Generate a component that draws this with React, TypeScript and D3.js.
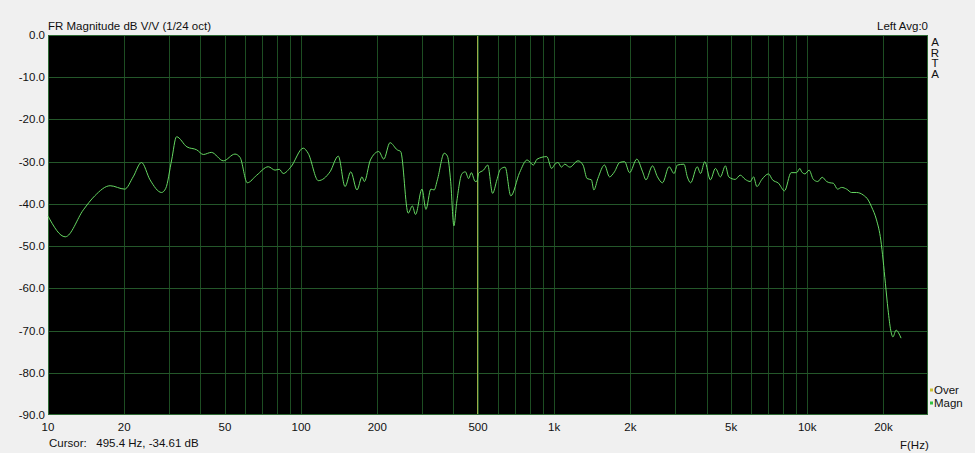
import { useEffect, useRef } from "react";
import * as d3 from "d3";

// measured response, 1/24 oct smoothing (Hz, dB)
const FREQS = [
  10, 11.7, 13.8, 15.3, 17.6, 20.1, 21.7, 23.4, 25.3, 28.1, 29.2, 30.8, 32.2,
  35.4, 38.7, 41.1, 44.2, 49.3, 54.8, 57.4, 61.3, 66.8, 74.2, 78.9, 82, 85, 91,
  102, 106.6, 117, 130.1, 140.3, 149.2, 157.2, 166.3, 174.1, 177.8, 187.9,
  202.7, 212.2, 224.5, 239.8, 247.5, 264.9, 275.2, 283.3, 300.4, 311.4, 325.7,
  335.6, 345.6, 367.9, 378.7, 390, 401.7, 411.5, 432.7, 445.8, 459.2, 470.4,
  487.7, 495.4, 502.4, 525.9, 546.3, 571, 594, 613, 640, 674, 730, 782, 828,
  856, 935, 977, 1007, 1036, 1068, 1101, 1153, 1242, 1300, 1349, 1403, 1435,
  1488, 1581, 1655, 1731, 1814, 1898, 1986, 2121, 2236, 2305, 2446, 2560,
  2679, 2845, 2977, 3068, 3258, 3359, 3462, 3675, 3788, 3937, 4143, 4337,
  4538, 4749, 4895, 5195, 5436, 5688, 5953, 6136, 6324, 6619, 7028, 7289,
  7697, 8131, 8636, 9076, 9356, 9500, 9799, 10170, 10570, 11000, 11460, 11930,
  12290, 12670, 13180, 13670, 14310, 14970, 15670, 16640, 17420, 17950, 18780,
  19530, 19940, 20360, 20860, 21370, 21800, 22450, 22930, 23480,
];

const MAGN = [
  -42.9, -47.8, -41.4, -38.1, -35.7, -36.5, -33.6, -30.2, -34.3, -37.3, -36.3,
  -29.6, -24.1, -26.5, -27.2, -28.3, -27.8, -29.8, -28.2, -29.0, -35.0, -33.2,
  -31.2, -32.0, -31.8, -32.8, -31.3, -26.8, -28.0, -34.5, -32.4, -28.7, -35.9,
  -32.4, -36.7, -33.6, -34.7, -29.6, -27.6, -29.4, -25.5, -27.2, -27.6, -42.2,
  -40.5, -42.5, -36.5, -41.3, -36.5, -36.7, -34.3, -28.0, -28.7, -34.7, -45.2,
  -39.9, -32.8, -32.4, -34.0, -32.6, -34.7, -34.61, -32.8, -32.0, -30.8, -37.5,
  -34.3, -31.8, -31.3, -38.1, -32.6, -29.6, -30.8, -29.4, -28.8, -31.6, -30.6,
  -30.2, -31.3, -30.6, -31.3, -29.8, -30.8, -34.0, -34.3, -36.7, -34.0, -30.8,
  -33.6, -32.4, -30.2, -30.0, -32.6, -29.4, -32.4, -34.3, -31.0, -33.6, -35.0,
  -31.2, -32.8, -30.8, -30.6, -33.6, -35.0, -31.2, -32.8, -30.0, -34.3, -31.6,
  -33.6, -31.0, -33.6, -34.2, -33.2, -34.2, -34.7, -33.6, -35.9, -34.2, -32.9,
  -34.3, -35.1, -36.9, -32.6, -32.6, -31.6, -32.4, -32.9, -32.0, -34.2, -34.7,
  -33.7, -34.7, -35.0, -35.1, -36.5, -36.1, -36.5, -37.3, -37.3, -37.9, -39.1,
  -40.7, -43.8, -48.6, -53.3, -58.8, -65.1, -69.9, -71.5, -69.9, -70.5, -71.8,
];

const X_TICKS = [10, 20, 50, 100, 200, 500, 1000, 2000, 5000, 10000, 20000];
const X_TICK_LABELS = ["10", "20", "50", "100", "200", "500", "1k", "2k", "5k", "10k", "20k"];
const Y_TICKS = [0, -10, -20, -30, -40, -50, -60, -70, -80, -90];
const CURSOR_FREQ = 495.4;
const CURSOR_TEXT = "Cursor:   495.4 Hz, -34.61 dB";
const LEGEND = [
  { label: "Over", color: "#c8c030" },
  { label: "Magn", color: "#30c040" },
];

const WIDTH = 975;
const HEIGHT = 453;
const FONT = "'Liberation Sans', Arial, sans-serif";

export default function App() {
  const svgRef = useRef<SVGSVGElement>(null);

  useEffect(() => {
    if (!svgRef.current) return;
    const svg = d3.select(svgRef.current);
    svg.selectAll("*").remove();

    const plot = { left: 48, top: 35, right: 928, bottom: 415 };

    const x = d3.scaleLog().domain([10, 30000]).range([plot.left, plot.right]);
    const y = d3.scaleLinear().domain([-90, 0]).range([plot.bottom, plot.top]);

    svg.append("rect").attr("width", WIDTH).attr("height", HEIGHT).attr("fill", "#f0f0f0");

    svg
      .append("rect")
      .attr("x", plot.left)
      .attr("y", plot.top)
      .attr("width", plot.right - plot.left)
      .attr("height", plot.bottom - plot.top)
      .attr("fill", "#000");

    const grid = svg.append("g").attr("shape-rendering", "crispEdges");

    // 1..9 per decade
    const vLines: number[] = [];
    for (let dec = 10; dec <= 10000; dec *= 10) {
      for (let m = 1; m <= 9; m++) {
        const f = dec * m;
        if (f > 10 && f < 30000) vLines.push(f);
      }
    }

    grid
      .selectAll("line.v")
      .data(vLines)
      .join("line")
      .attr("class", "v")
      .attr("x1", (d) => Math.round(x(d)) + 0.5)
      .attr("x2", (d) => Math.round(x(d)) + 0.5)
      .attr("y1", plot.top)
      .attr("y2", plot.bottom)
      .attr("stroke", "#1d4d22")
      .attr("stroke-width", 1);

    grid
      .selectAll("line.h")
      .data(Y_TICKS.slice(1, -1))
      .join("line")
      .attr("class", "h")
      .attr("x1", plot.left)
      .attr("x2", plot.right)
      .attr("y1", (d) => Math.round(y(d)) + 0.5)
      .attr("y2", (d) => Math.round(y(d)) + 0.5)
      .attr("stroke", "#24572a")
      .attr("stroke-width", 1);

    // cursor
    grid
      .append("line")
      .attr("x1", Math.round(x(CURSOR_FREQ)) + 0.5)
      .attr("x2", Math.round(x(CURSOR_FREQ)) + 0.5)
      .attr("y1", plot.top)
      .attr("y2", plot.bottom)
      .attr("stroke", "#9aae48")
      .attr("stroke-width", 1);

    svg
      .append("rect")
      .attr("x", plot.left + 0.5)
      .attr("y", plot.top + 0.5)
      .attr("width", plot.right - plot.left - 1)
      .attr("height", plot.bottom - plot.top - 1)
      .attr("fill", "none")
      .attr("stroke", "#2e6a34")
      .attr("shape-rendering", "crispEdges");

    const data = FREQS.map((f, i) => ({ f, v: MAGN[i] }));
    const line = d3
      .line<{ f: number; v: number }>()
      .x((d) => x(d.f))
      .y((d) => y(d.v))
      .curve(d3.curveMonotoneX);

    svg
      .append("path")
      .datum(data)
      .attr("d", line)
      .attr("fill", "none")
      .attr("stroke", "#66d862")
      .attr("stroke-width", 1)
      .attr("stroke-linejoin", "round");

    const text = svg
      .append("g")
      .attr("font-family", FONT)
      .attr("font-size", "11.5px")
      .attr("fill", "#111");

    // y labels
    text
      .selectAll("text.y")
      .data(Y_TICKS)
      .join("text")
      .attr("class", "y")
      .attr("x", 45)
      .attr("y", (d) => y(d) + 4)
      .attr("text-anchor", "end")
      .text((d) => d.toFixed(1));

    // x labels
    text
      .selectAll("text.x")
      .data(X_TICKS)
      .join("text")
      .attr("class", "x")
      .attr("x", (d) => x(d))
      .attr("y", 431)
      .attr("text-anchor", "middle")
      .text((_, i) => X_TICK_LABELS[i]);

    text.append("text").attr("x", 48).attr("y", 30).text("FR Magnitude dB V/V (1/24 oct)");
    text
      .append("text")
      .attr("x", 928)
      .attr("y", 30)
      .attr("text-anchor", "end")
      .text("Left  Avg:0");

    ["A", "R", "T", "A"].forEach((ch, i) => {
      text
        .append("text")
        .attr("x", 935)
        .attr("y", 46 + i * 10.5)
        .attr("text-anchor", "middle")
        .text(ch);
    });

    text.append("text").attr("x", 49).attr("y", 447).attr("xml:space", "preserve").text(CURSOR_TEXT);
    text.append("text").attr("x", 900).attr("y", 449).text("F(Hz)");

    LEGEND.forEach((entry, i) => {
      const yy = 390 + i * 13;
      svg
        .append("rect")
        .attr("x", 930)
        .attr("y", yy - 1.5)
        .attr("width", 3)
        .attr("height", 3)
        .attr("fill", entry.color);
      text
        .append("text")
        .attr("x", 934)
        .attr("y", yy + 4)
        .text(entry.label);
    });
  }, []);

  return (
    <svg
      ref={svgRef}
      width={WIDTH}
      height={HEIGHT}
      style={{ position: "absolute", left: 0, top: 0, display: "block" }}
    />
  );
}
